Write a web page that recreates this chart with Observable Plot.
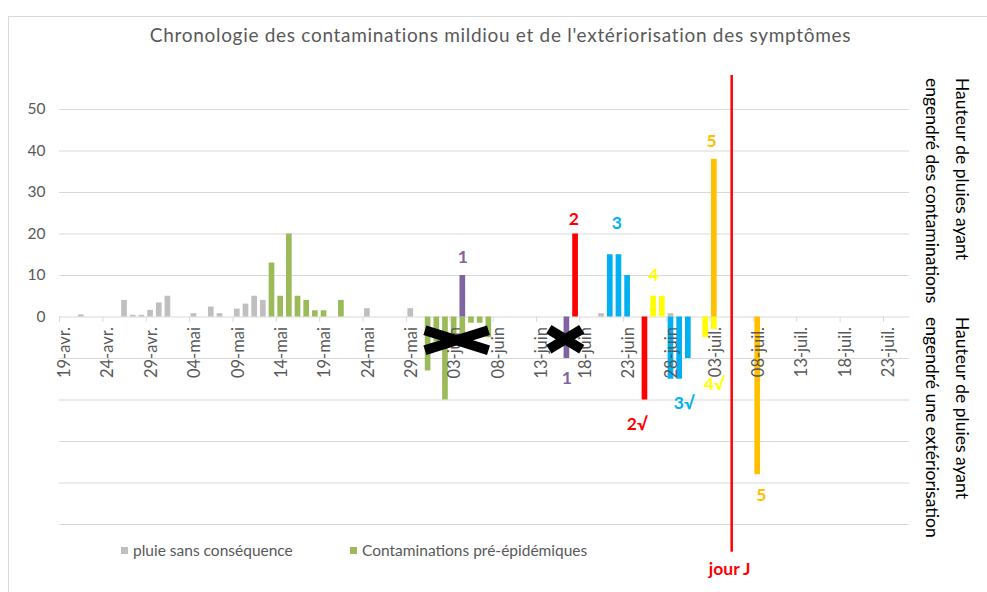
<!DOCTYPE html>
<html>
<head>
<meta charset="utf-8">
<script src="https://cdn.jsdelivr.net/npm/d3@7"></script>
<script src="https://cdn.jsdelivr.net/npm/@observablehq/plot@0.6"></script>
<style>
  body { margin: 0; background: #fff; font-family: Lato, sans-serif; }
  #wrap { position: relative; width: 987px; height: 592px; overflow: hidden; background: #fff; }
  #frame { position: absolute; left: 8px; top: 16px; width: 990px; height: 590px; border-left: 1px solid #d9d9d9; border-top: 1px solid #d9d9d9; }
  #chart { position: absolute; left: 0; top: 0; }
  #title { position: absolute; top: 23px; left: 0; width: 1001px; text-align: center; font-size: 19px; letter-spacing: 0.7px; line-height: 23px; color: #595959; white-space: nowrap; }
  .side { position: absolute; writing-mode: vertical-rl; font-size: 17.5px; line-height: 30px; color: #000; white-space: nowrap; }
  #legend { position: absolute; top: 540px; left: 121px; font-size: 15.5px; line-height: 20px; color: #595959; white-space: nowrap; }
  .item { position: absolute; top: 0; display: flex; align-items: center; }
  .sw { width: 7px; height: 7px; margin-right: 5px; }
</style>
</head>
<body>
<div id="wrap">
  <div id="frame"></div>
  <div id="chart"></div>
  <div id="title">Chronologie des contaminations mildiou et de l'extériorisation des symptômes</div>
  <div class="side" style="top:78px; right:10px;">Hauteur de pluies ayant<br>engendré des contaminations</div>
  <div class="side" style="top:317px; right:10px;">Hauteur de pluies ayant<br>engendré une extériorisation</div>
  <div id="legend"></div>
</div>
<script>
// ---------- data ----------
const pluieDates  = ["2021-04-21","2021-04-26","2021-04-27","2021-04-28","2021-04-29","2021-04-30","2021-05-01","2021-05-04","2021-05-06","2021-05-07","2021-05-09","2021-05-10","2021-05-11","2021-05-12","2021-05-24","2021-05-29","2021-06-20","2021-06-28"];
const pluieValues = [0.5, 4, 0.4, 0.4, 1.6, 3.4, 5, 0.8, 2.4, 0.8, 1.9, 3.1, 5, 4, 2, 2, 0.8, 0.8];

const preEpiContDates  = ["2021-05-13","2021-05-14","2021-05-15","2021-05-16","2021-05-17","2021-05-18","2021-05-19","2021-05-21"];
const preEpiContValues = [13, 5, 20, 5, 4, 1.5, 1.5, 4];
const preEpiExtDates   = ["2021-05-31","2021-06-01","2021-06-02","2021-06-03","2021-06-04","2021-06-05","2021-06-06","2021-06-07"];
const preEpiExtValues  = [-13, -6, -20, -6, -6, -1.5, -1.5, -5];

const c1Dates = ["2021-06-04"];                              const c1Values = [10];
const e1Dates = ["2021-06-16"];                              const e1Values = [-10];
const c2Dates = ["2021-06-17"];                              const c2Values = [20];
const e2Dates = ["2021-06-25"];                              const e2Values = [-20];
const c3Dates = ["2021-06-21","2021-06-22","2021-06-23"];    const c3Values = [15, 15, 10];
const e3Dates = ["2021-06-28","2021-06-29","2021-06-30"];    const e3Values = [-15, -15, -10];
const c4Dates = ["2021-06-26","2021-06-27"];                 const c4Values = [5, 5];
const e4Dates = ["2021-07-02","2021-07-03"];                 const e4Values = [-5, -3];
const c5Dates = ["2021-07-03"];                              const c5Values = [38];
const e5Dates = ["2021-07-08"];                              const e5Values = [-38];

const seriesColors = {pluie: "#bfbfbf", preEpi: "#9bbb59", g1: "#8064a2", g2: "#ff0000", g3: "#00b0f0", g4: "#ffff00", g5: "#ffc000"};

const tickDates  = ["2021-04-19","2021-04-24","2021-04-29","2021-05-04","2021-05-09","2021-05-14","2021-05-19","2021-05-24","2021-05-29","2021-06-03","2021-06-08","2021-06-13","2021-06-18","2021-06-23","2021-06-28","2021-07-03","2021-07-08","2021-07-13","2021-07-18","2021-07-23"];
const tickLabels = ["19-avr.","24-avr.","29-avr.","04-mai","09-mai","14-mai","19-mai","24-mai","29-mai","03-juin","08-juin","13-juin","18-juin","23-juin","28-juin","03-juil.","08-juil.","13-juil.","18-juil.","23-juil."];
const yLabelValues = [0, 10, 20, 30, 40, 50];
const gridValues   = [-50, -40, -30, -20, -10, 0, 10, 20, 30, 40, 50];

// numbered annotations (anchor in data units)
const annTexts  = ["1", "2", "3", "4", "5", "1", "2\u221A", "3\u221A", "4\u221A", "5"];
const annGroups = ["g1","g2","g3","g4","g5","g1","g2","g3","g4","g5"];
const annDates  = ["2021-06-04T12:00","2021-06-17T07:00","2021-06-22T06:00","2021-06-26T12:00","2021-07-03T04:00","2021-06-16T12:00","2021-06-24T15:00","2021-06-30T01:00","2021-07-03T12:00","2021-07-08T22:00"];
const annValues = [14.3, 23.4, 22.6, 10.05, 42.2, -14.85, -25.8, -20.8, -16.15, -43];

const jourJDate = "2021-07-05T12:00";
const jourJLabel = "jour J";

// crosses drawn over cancelled exteriorisations
const crossStart  = ["2021-05-31T03:00", "2021-06-14T10:00"];
const crossEnd    = ["2021-06-07T11:00", "2021-06-18T05:00"];
const crossTop    = [-3.2, -2.95];
const crossBottom = [-8.0, -7.75];

const legendLabels = ["pluie sans conséquence", "Contaminations pré-épidémiques"];
const legendKeys   = ["pluie", "preEpi"];

// ---------- build ----------
const DAY = 864e5;
const dt = s => new Date(s + (s.length === 10 ? "T00:00Z" : "Z"));

const bars = [];
function add(dates, values, key) {
  dates.forEach((s, i) => bars.push({date: dt(s), value: values[i], color: seriesColors[key]}));
}
add(pluieDates, pluieValues, "pluie");
add(preEpiContDates, preEpiContValues, "preEpi");
add(preEpiExtDates, preEpiExtValues, "preEpi");
add(c1Dates, c1Values, "g1"); add(e1Dates, e1Values, "g1");
add(c2Dates, c2Values, "g2"); add(e2Dates, e2Values, "g2");
add(c3Dates, c3Values, "g3"); add(e3Dates, e3Values, "g3");
add(c4Dates, c4Values, "g4"); add(e4Dates, e4Values, "g4");
add(c5Dates, c5Values, "g5"); add(e5Dates, e5Values, "g5");

const ticks = tickDates.map((s, i) => ({date: dt(s), label: tickLabels[i]}));
const anns = annTexts.map((t, i) => ({text: t, date: dt(annDates[i]), value: annValues[i], color: seriesColors[annGroups[i]]}));
const crossLines = [];
crossStart.forEach((s, i) => {
  crossLines.push({x1: dt(s), x2: dt(crossEnd[i]), y1: crossTop[i], y2: crossBottom[i]});
  crossLines.push({x1: dt(s), x2: dt(crossEnd[i]), y1: crossBottom[i], y2: crossTop[i]});
});
const xStart = dt("2021-04-19"), xEnd = dt("2021-07-26");

const chart = Plot.plot({
  width: 987, height: 592,
  marginLeft: 59, marginRight: 78, marginTop: 109, marginBottom: 68,
  x: {type: "utc", domain: [xStart, xEnd], axis: null},
  y: {domain: [-50, 50], axis: null},
  style: {fontFamily: "Lato, sans-serif", background: "transparent", overflow: "visible"},
  marks: [
    Plot.ruleY(gridValues, {y: d => d, stroke: "#d9d9d9", strokeWidth: 1}),
    Plot.ruleX(ticks, {x: "date", y1: 0, y2: -1.3, stroke: "#d9d9d9"}),
    Plot.rect(bars, {x1: "date", x2: d => new Date(+d.date + DAY), y1: 0, y2: "value", fill: "color", insetLeft: 1.5, insetRight: 1.5}),
    Plot.text(ticks, {x: d => new Date(+d.date + DAY / 2), y: 0, text: "label", rotate: -90, textAnchor: "end", dy: 10, dx: 1, fontSize: 16.5, fill: "#595959"}),
    Plot.text(yLabelValues, {x: xStart, y: d => d, text: d => String(d), textAnchor: "end", dx: -14, fontSize: 15.5, fill: "#595959"}),
    Plot.link(crossLines, {x1: "x1", x2: "x2", y1: "y1", y2: "y2", stroke: "#000", strokeWidth: 10, strokeLinecap: "butt"}),
    Plot.text(anns, {x: "date", y: "value", text: "text", fill: "color", fontWeight: "bold", fontSize: 17.5}),
    Plot.ruleX([dt(jourJDate)], {x: d => d, y1: 58.2, y2: -56.7, stroke: "#ff0000", strokeWidth: 2.5}),
    Plot.text([dt(jourJDate)], {x: d => d, y: -60.9, text: () => jourJLabel, fill: "#ff0000", fontWeight: "bold", fontSize: 17.5, dx: -2})
  ]
});
document.getElementById("chart").appendChild(chart);

// legend
const legend = document.getElementById("legend");
const legendOffsets = [0, 229];
legendLabels.forEach((lab, i) => {
  const it = document.createElement("div");
  it.className = "item";
  it.style.left = legendOffsets[i] + "px";
  const sw = document.createElement("span");
  sw.className = "sw";
  sw.style.background = seriesColors[legendKeys[i]];
  const tx = document.createElement("span");
  tx.textContent = lab;
  it.appendChild(sw); it.appendChild(tx);
  legend.appendChild(it);
});
</script>
</body>
</html>
